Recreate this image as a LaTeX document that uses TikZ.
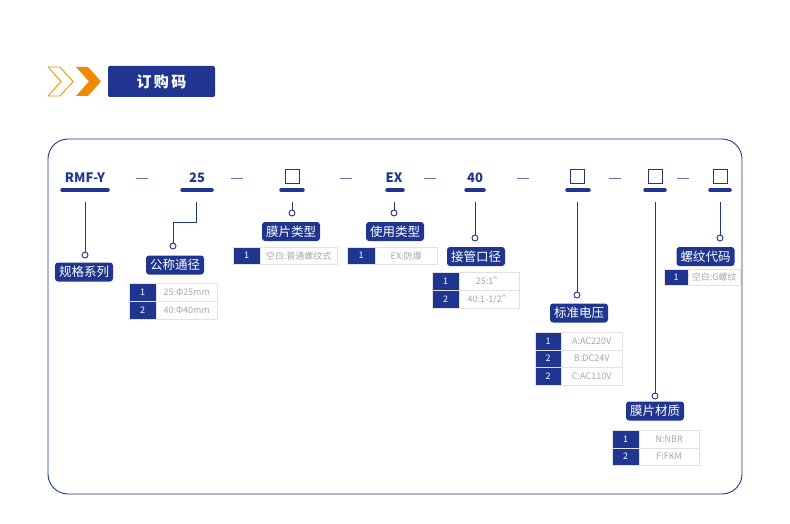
\documentclass[tikz,border=0pt]{standalone}
\usepackage{fontspec}
\setmainfont{Noto Sans CJK SC}
\definecolor{nv}{HTML}{1F3590}
\definecolor{og}{HTML}{F08A00}
\definecolor{gt}{HTML}{A8A8A8}
\definecolor{gl}{HTML}{E2E2E2}
\begin{document}
\begin{tikzpicture}[x=1pt,y=-1pt,
 code/.style={font=\bfseries\fontsize{13}{13}\selectfont,text=nv,anchor=center},
 lab/.style={fill=nv,text=white,rounded corners=3pt,font=\fontsize{12.5}{13}\selectfont,inner xsep=4pt,inner ysep=2pt,minimum height=19pt},
 ln/.style={nv,line width=0.9pt},
 ul/.style={nv,line width=3.5pt,line cap=round},
 dot/.style={circle,draw=nv,line width=0.9pt,fill=white,inner sep=0pt,minimum size=6pt},
 num/.style={fill=nv,draw=gl,text=white,font=\fontsize{9}{10}\selectfont,anchor=north west,inner sep=0pt},
 val/.style={fill=white,draw=gl,text=gt,font=\fontsize{9}{10}\selectfont,anchor=north west,inner sep=0pt},
 sq/.style={draw=nv,line width=0.9pt,minimum size=14pt,inner sep=0pt}]
\useasboundingbox (0,0) rectangle (790,524);
% header
\draw[og,line width=0.8pt,line join=round] (48,67) -- (60,67) -- (73,81.5) -- (60,96) -- (48,96) -- (61,81.5) -- cycle;
\fill[og] (76,67) -- (88,67) -- (101,81.5) -- (88,96) -- (76,96) -- (89,81.5) -- cycle;
\node[fill=nv,rounded corners=2pt,minimum width=107pt,minimum height=31pt,text=white,font=\bfseries\fontsize{15}{15}\selectfont] (title) at (161.5,81.5) {订\,购\,码};
\draw[nv,line width=0.9pt,rounded corners=20pt] (48,139) rectangle (742,494);
% codes
\node[code] (c1) at (85,178) {RMF-Y};
\node[code] (c2) at (197,178) {25};
\node[sq] (c3) at (292,176) {};
\node[code] (c4) at (394,178) {EX};
\node[code] (c5) at (475,178) {40};
\node[sq] (c6) at (577,176) {};
\node[sq] (c7) at (655,176) {};
\node[sq] (c8) at (720,176) {};
\foreach \x in {142,237,346,430,523,615,683} \draw[nv!70,line width=0.8pt] (\x-6,178) -- (\x+6,178);
\foreach \a/\b in {62/108,182/212,281/303,387/403,466/484,567/589,645/665,710/730} \draw[ul] (\a,190) -- (\b,190);
% connectors & labels
\node[dot] (d1) at (85,255) {};
\node[lab] (l1) at (84,272) {规格系列};
\draw[ln] (85,202) -- (d1);
\node[dot] (d2) at (173,246) {};
\node[lab] (l2) at (175,265) {公称通径};
\draw[ln] (196,202) |- (173,222) -- (d2);
\node[dot] (d3) at (292,213) {};
\node[lab] (l3) at (291,231.5) {膜片类型};
\draw[ln] (292,202) -- (d3);
\node[dot] (d4) at (394,213) {};
\node[lab] (l4) at (395,231.5) {使用类型};
\draw[ln] (394,202) -- (d4);
\node[dot] (d5) at (475,238) {};
\node[lab] (l5) at (476,256.5) {接管口径};
\draw[ln] (475,202) -- (d5);
\node[dot] (d6) at (577,295) {};
\node[lab] (l6) at (579,313) {标准电压};
\draw[ln] (577,202) -- (d6);
\node[dot] (d7) at (655,396) {};
\node[lab] (l7) at (655,411) {膜片材质};
\draw[ln] (655,202) -- (d7);
\node[dot] (d8) at (720,238) {};
\node[lab] (l8) at (705.5,256.5) {螺纹代码};
\draw[ln] (720,202) -- (d8);
% tables
\newcommand{\tbl}[6]{\foreach \n/\t [count=\i from 0] in {#6}{
 \node[num,minimum width=#3pt,minimum height=#5pt] at (#1,#2+\i*#5) {\n};
 \node[val,minimum width=#4pt,minimum height=#5pt] at (#1+#3,#2+\i*#5) {\t};}}
\tbl{129}{283}{27}{61}{18}{1/25:Φ25mm,2/40:Φ40mm}
\tbl{233}{247}{27}{77}{17}{1/空白:普通螺纹式}
\tbl{347}{247}{28}{62}{17}{1/EX:防爆}
\tbl{432}{272}{27}{60}{18}{1/{25:1"},2/{40:1-1/2"}}
\tbl{535}{332}{26}{61}{17.5}{1/A:AC220V,2/B:DC24V,2/C:AC110V}
\tbl{612}{430}{27}{60}{17.5}{1/N:NBR,2/F:FKM}
\tbl{664}{269}{24}{52}{16}{1/空白:G螺纹}
\end{tikzpicture}
\end{document}
